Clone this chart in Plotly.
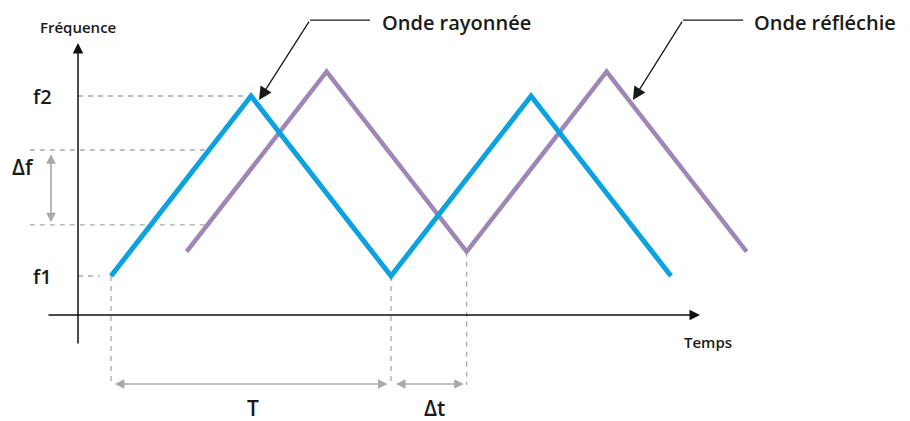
import plotly.graph_objects as go

# ---- data (time units: T = 10, frequency units arbitrary) ----
blue_t = [0, 5, 10, 15, 20]
blue_f = [10, 30, 10, 30, 10]
purple_t = [2.7, 7.7, 12.7, 17.7, 22.7]
purple_f = [12.7, 32.7, 12.7, 32.7, 12.7]
f1_val = 10
f2_val = 30
df_high = 24
df_low = 15.67
T_start, T_end = 0, 10
dt_end = 12.7

BLUE = "#0aa2e0"
PURPLE = "#a086b6"
GRAY = "#a9a9a9"
FONT = "Open Sans"

# ---- layout frame (pixel-aligned mapping, page body has 8px margin) ----
X_RANGE = [-3.679, 28.821]
Y_RANGE = [-7.0, 39.778]
axis_t = -1.179      # y-axis position
axis_f = 5.667       # x-axis position
dim_f = -2.0         # dimension arrows level
dash_left_t = -2.9
dash_right_t = 3.4
bottom_f = -2.1

fig = go.Figure()

def dline(x, y):
    fig.add_trace(go.Scatter(x=x, y=y, mode="lines",
                             line=dict(color=GRAY, width=1.3, dash="5px,5px"),
                             hoverinfo="skip"))

# dashed guides
dline([axis_t, blue_t[1]], [f2_val, f2_val])
dline([axis_t, blue_t[0] - 0.4], [f1_val, f1_val])
dline([dash_left_t, dash_right_t], [df_high, df_high])
dline([dash_left_t, dash_right_t], [df_low, df_low])
dline([T_start, T_start], [f1_val, bottom_f])
dline([T_end, T_end], [f1_val, bottom_f])
dline([dt_end, dt_end], [purple_f[2], bottom_f])

# waves
fig.add_trace(go.Scatter(x=purple_t, y=purple_f, mode="lines",
                         line=dict(color=PURPLE, width=4.5), hoverinfo="skip"))
fig.add_trace(go.Scatter(x=blue_t, y=blue_f, mode="lines",
                         line=dict(color=BLUE, width=5), hoverinfo="skip"))

# leader horizontal segments
fig.add_trace(go.Scatter(x=[9.25, 7.107], y=[38.44, 38.44], mode="lines",
                         line=dict(color="#1a1a1a", width=1.3), hoverinfo="skip"))
fig.add_trace(go.Scatter(x=[22.57, 20.43], y=[38.44, 38.44], mode="lines",
                         line=dict(color="#1a1a1a", width=1.3), hoverinfo="skip"))

ann = []
def arrow(x, y, ax, ay, color, width=1.5, size=1.0, both=False):
    d = dict(x=x, y=y, ax=ax, ay=ay, xref="x", yref="y", axref="x", ayref="y",
             text="", showarrow=True, arrowhead=2, arrowsize=size,
             arrowwidth=width, arrowcolor=color)
    if both:
        d.update(arrowside="end+start", startarrowhead=2, startarrowsize=size)
    ann.append(d)

# axes
arrow(axis_t, 35.89, axis_t, 2.333, "#111111", 1.5, 1.4)
arrow(21.036, axis_f, -2.286, axis_f, "#111111", 1.5, 1.4)
# leader diagonals
arrow(5.286, 29.56, 7.107, 38.44, "#1a1a1a", 1.3, 2.0)
arrow(18.64, 29.56, 20.43, 38.44, "#1a1a1a", 1.3, 2.0)
# dimension arrows
arrow(T_end - 0.12, dim_f, T_start + 0.08, dim_f, GRAY, 1.6, 1.2, both=True)
arrow(dt_end - 0.1, dim_f, T_end + 0.12, dim_f, GRAY, 1.6, 1.2, both=True)
arrow(-2.143, df_low + 0.3, -2.143, df_high - 0.3, GRAY, 1.6, 1.2, both=True)

def label(text, x, y, size, anchor="center", weight=600):
    ann.append(dict(x=x, y=y, xref="x", yref="y", text=text, showarrow=False,
                    xanchor=anchor, yanchor="middle",
                    font=dict(family=FONT, size=size, color="#1a1a1a", weight=weight)))

label("Fréquence", axis_t, 37.67, 15)
label("Temps", 21.32, 2.667, 15)
label("f2", -2.43, f2_val, 20)
label("Δf", -3.14, 22.1, 21)
label("f1", -2.43, f1_val, 20)
label("T", 5.07, -4.67, 21)
label("Δt", 11.57, -4.67, 21)
label("Onde rayonnée", 9.607, 38.2, 20, anchor="left")
label("Onde réfléchie", 22.89, 38.2, 20, anchor="left")

fig.update_layout(
    width=910, height=421,
    margin=dict(l=0, r=0, t=0, b=0),
    paper_bgcolor="white", plot_bgcolor="white",
    showlegend=False,
    xaxis=dict(range=X_RANGE, visible=False, fixedrange=True),
    yaxis=dict(range=Y_RANGE, visible=False, fixedrange=True),
    annotations=ann,
)

fig.write_html("out.html")
